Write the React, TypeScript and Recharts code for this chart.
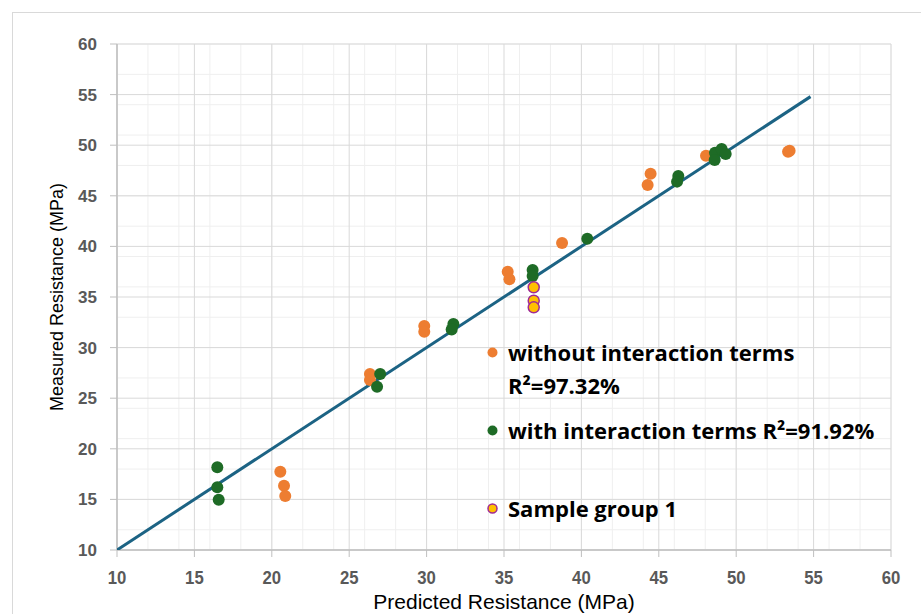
import React from 'react';
import { ScatterChart, Scatter, XAxis, YAxis, CartesianGrid, Legend, Label } from 'recharts';

const withoutInteraction = [
  { x: 20.55, y: 17.74 }, { x: 20.79, y: 16.35 }, { x: 20.87, y: 15.34 },
  { x: 26.34, y: 27.39 }, { x: 26.34, y: 26.8 },
  { x: 29.85, y: 32.13 }, { x: 29.85, y: 31.57 },
  { x: 35.24, y: 37.5 }, { x: 35.35, y: 36.75 },
  { x: 38.75, y: 40.34 },
  { x: 44.28, y: 46.07 }, { x: 44.47, y: 47.19 },
  { x: 48.05, y: 48.96 },
  { x: 53.35, y: 49.35 }, { x: 53.45, y: 49.45 },
];
const withInteraction = [
  { x: 16.48, y: 18.17 }, { x: 16.48, y: 16.2 }, { x: 16.57, y: 14.97 },
  { x: 27.0, y: 27.39 }, { x: 26.8, y: 26.14 },
  { x: 31.73, y: 32.33 }, { x: 31.62, y: 31.8 },
  { x: 36.85, y: 37.67 }, { x: 36.85, y: 37.08 },
  { x: 40.38, y: 40.76 },
  { x: 46.26, y: 46.96 }, { x: 46.18, y: 46.4 },
  { x: 48.63, y: 49.26 }, { x: 48.61, y: 48.54 }, { x: 49.06, y: 49.62 }, { x: 49.32, y: 49.13 },
];
const sampleGroup1 = [
  { x: 36.92, y: 35.96 }, { x: 36.92, y: 34.64 }, { x: 36.92, y: 33.98 },
];
const identityLine = [
  { x: 10, y: 10 }, { x: 54.8, y: 54.8 },
];

const majorTicks = [10, 15, 20, 25, 30, 35, 40, 45, 50, 55, 60];
const minorTicks = Array.from({ length: 51 }, (_, i) => 10 + i);

const seriesNames = [
  'without interaction terms\nR²=97.32%',
  'with interaction terms R²=91.92%',
  'Sample group 1',
];
const xTitle = 'Predicted Resistance (MPa)';
const yTitle = 'Measured Resistance (MPa)';

const ORANGE = '#ED7D31';
const GREEN = '#1E6B26';
const YELLOW = '#FFC000';
const PURPLE = '#A02B93';
const LINE = '#1C6384';
const TICK = '#595959';
const SANS = "'Liberation Sans', Arial, sans-serif";

const dot = (fill: string, stroke?: string) => (p: any) => (
  <circle cx={p.cx} cy={p.cy} r={stroke ? 5.5 : 6} fill={fill} stroke={stroke || 'none'} strokeWidth={stroke ? 1.5 : 0} />
);

const NarrowTick = (props: any) => {
  const { x, y, payload } = props;
  return (
    <text
      x={0} y={0} dy="0.71em" textAnchor="middle"
      transform={`translate(${x},${y}) scale(0.88,1)`}
      fill={TICK} fontSize={19} fontWeight={700} fontFamily={SANS}
    >
      {payload.value}
    </text>
  );
};

const legendGaps = [0, 12, 45];

const renderLegend = (props: any) => {
  const items = (props.payload || [])
    .filter((e: any) => e.value && seriesNames.indexOf(e.value) >= 0)
    .sort((a: any, b: any) => seriesNames.indexOf(a.value) - seriesNames.indexOf(b.value));
  return (
    <div style={{ fontFamily: "'Open Sans', sans-serif", fontWeight: 700, fontSize: 22, color: '#000', lineHeight: '33px', textAlign: 'left' }}>
      {items.map((e: any, i: number) => {
        const idx = seriesNames.indexOf(e.value);
        const fill = idx === 0 ? ORANGE : idx === 1 ? GREEN : YELLOW;
        return (
          <div key={i} style={{ display: 'flex', alignItems: 'flex-start', marginTop: legendGaps[i] || 0 }}>
            <svg width={16} height={33} style={{ flex: 'none', marginRight: 6 }}>
              <circle cx={6.5} cy={16.5} r={idx === 2 ? 4.5 : 5} fill={fill} stroke={idx === 2 ? PURPLE : 'none'} strokeWidth={1.5} />
            </svg>
            <span style={{ whiteSpace: 'pre-line' }}>{e.value}</span>
          </div>
        );
      })}
    </div>
  );
};

export default function App() {
  return (
    <div style={{ position: 'absolute', left: 0, top: 0, width: 921, height: 614, overflow: 'hidden', background: '#fff' }}>
      <div style={{ position: 'absolute', left: 12, top: 12, width: 909, height: 602, borderTop: '1px solid #d9d9d9', borderLeft: '1px solid #d9d9d9' }} />
      <ScatterChart width={921} height={614} margin={{ top: 44, right: 30, bottom: 0, left: 40 }} style={{ position: 'absolute', left: 0, top: 0 }}>
        <XAxis xAxisId="minor" type="number" dataKey="x" domain={[10, 60]} ticks={minorTicks} hide allowDataOverflow />
        <YAxis yAxisId="minor" type="number" dataKey="y" domain={[10, 60]} ticks={minorTicks} hide allowDataOverflow />
        <CartesianGrid xAxisId="minor" yAxisId="minor" stroke="#efefef" strokeWidth={1} />
        <CartesianGrid stroke="#d9d9d9" strokeWidth={1} />
        <XAxis
          type="number" dataKey="x" domain={[10, 60]} ticks={majorTicks} height={64} allowDataOverflow
          axisLine={{ stroke: '#bfbfbf', strokeWidth: 1.5 }} tickLine={{ stroke: '#bfbfbf' }} tickSize={7} tickMargin={13}
          tick={<NarrowTick />}
        >
          <Label value={xTitle} position="insideBottom" offset={5} style={{ fill: '#000', fontSize: 21, fontFamily: SANS, textAnchor: 'middle' }} />
        </XAxis>
        <YAxis
          type="number" dataKey="y" domain={[10, 60]} ticks={majorTicks} width={77} allowDataOverflow
          axisLine={{ stroke: '#bfbfbf', strokeWidth: 1.5 }} tickLine={{ stroke: '#bfbfbf' }} tickSize={7} tickMargin={13}
          tick={{ fill: TICK, fontSize: 17, fontWeight: 700, fontFamily: SANS }}
        >
          <Label value={yTitle} angle={-90} position="insideLeft" offset={17} style={{ fill: '#000', fontSize: 18, fontFamily: SANS, textAnchor: 'middle' }} />
        </YAxis>
        <Legend
          layout="vertical" align="center" verticalAlign="middle"
          content={renderLegend}
          wrapperStyle={{ position: 'absolute', left: 486, top: 336, width: 430, bottom: 'auto', right: 'auto' }}
        />
        <Scatter name="" data={identityLine} line={{ stroke: LINE, strokeWidth: 3 }} shape={() => <g />} legendType="none" isAnimationActive={false} />
        <Scatter name={seriesNames[0]} data={withoutInteraction} fill={ORANGE} shape={dot(ORANGE)} isAnimationActive={false} />
        <Scatter name={seriesNames[1]} data={withInteraction} fill={GREEN} shape={dot(GREEN)} isAnimationActive={false} />
        <Scatter name={seriesNames[2]} data={sampleGroup1} fill={YELLOW} shape={dot(YELLOW, PURPLE)} isAnimationActive={false} />
      </ScatterChart>
    </div>
  );
}
